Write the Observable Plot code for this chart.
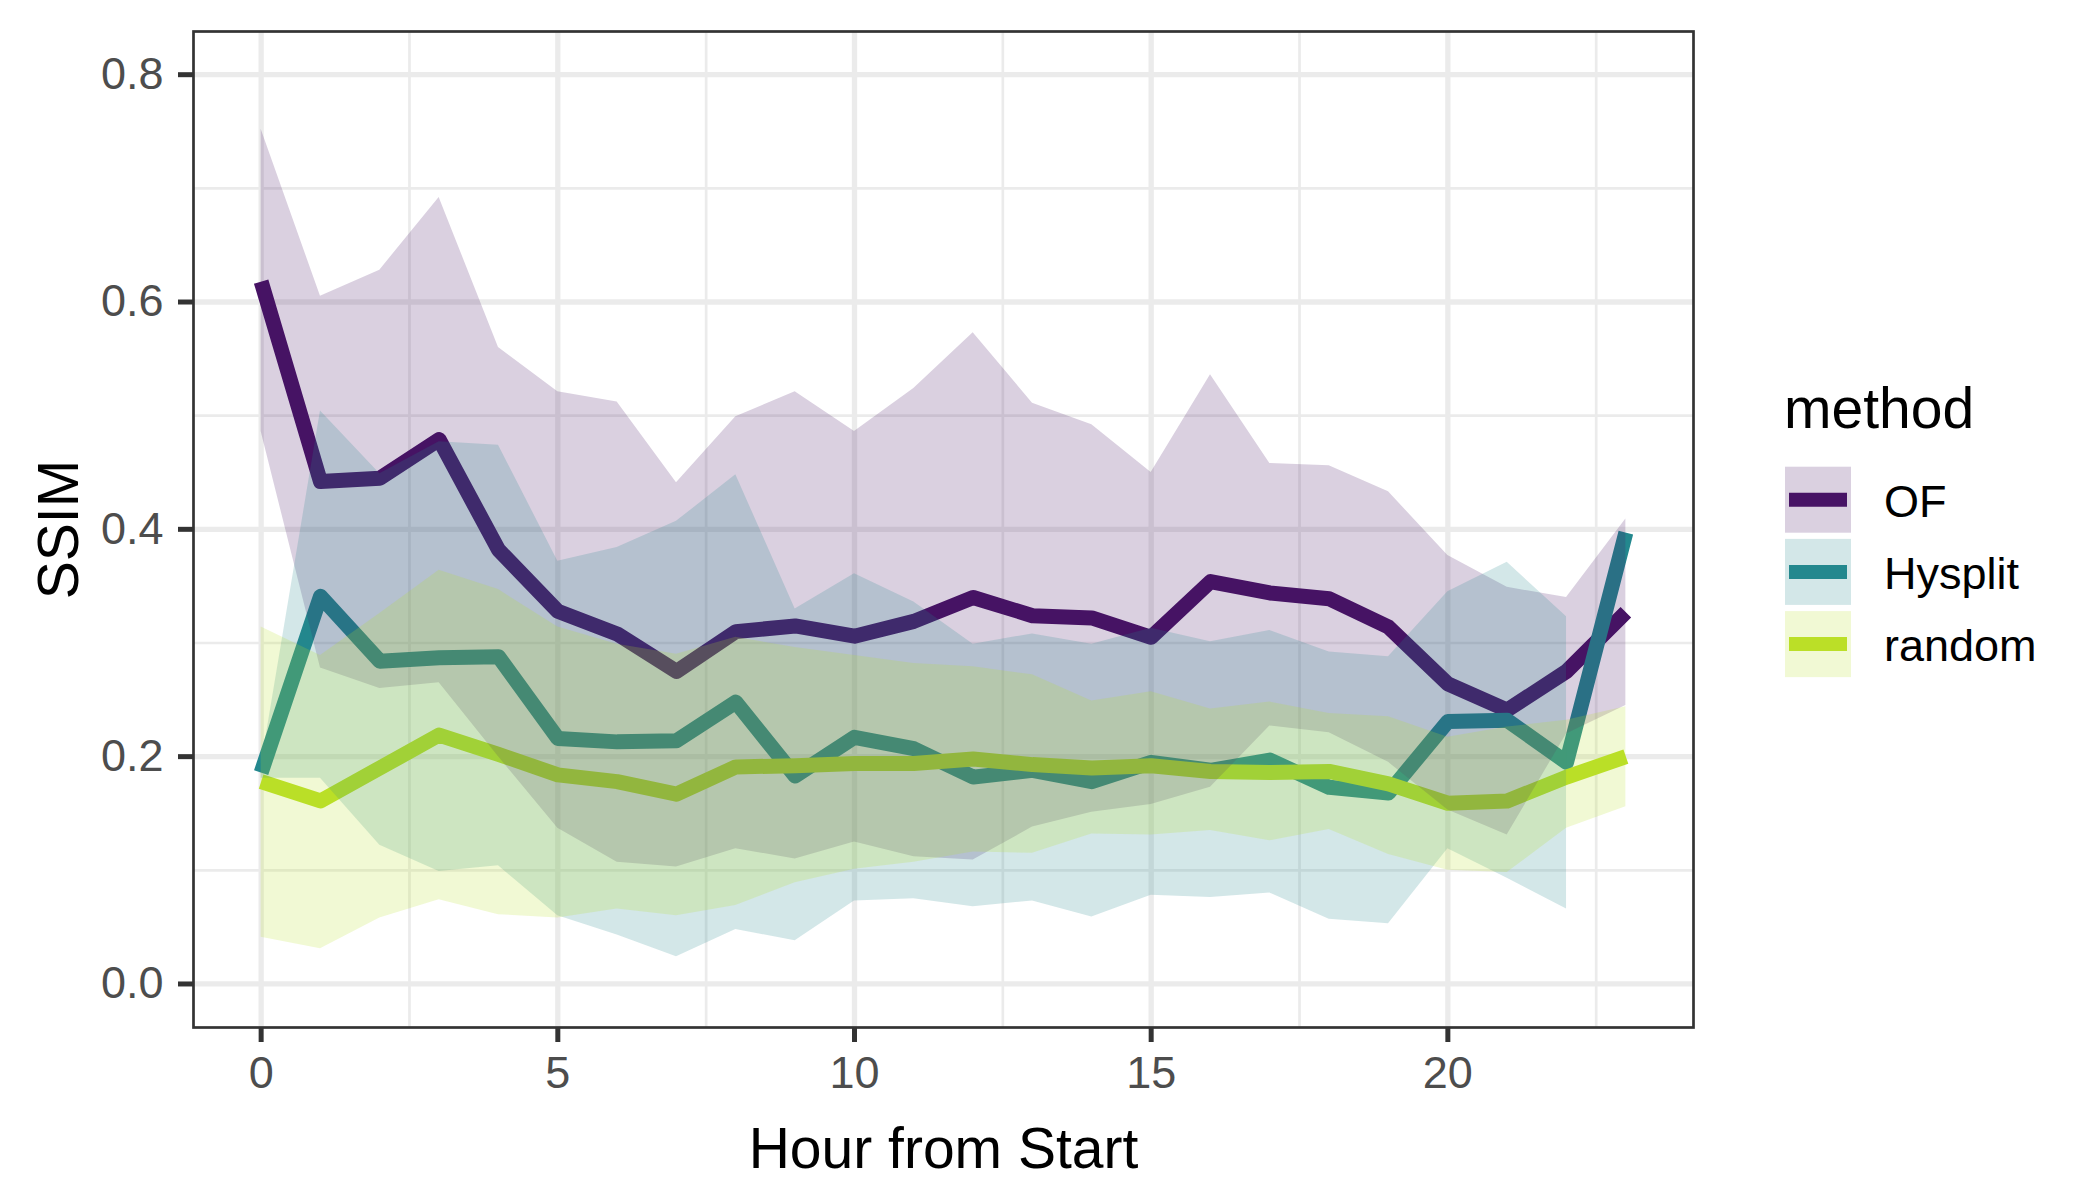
<!DOCTYPE html>
<html>
<head>
<meta charset="utf-8">
<script src="https://cdn.jsdelivr.net/npm/d3@7"></script>
<script src="https://cdn.jsdelivr.net/npm/@observablehq/plot@0.6"></script>
<style>
html, body { margin: 0; padding: 0; background: #ffffff; }
#wrap { position: relative; width: 2100px; height: 1200px; font-family: "Liberation Sans", Arial, Helvetica, sans-serif; }
#wrap > svg.chart { position: absolute; left: 0; top: 0; }
#wrap > svg#legend { position: absolute; left: 1760px; top: 340px; }
</style>
</head>
<body>
<div id="wrap"></div>
<script>
// ---- data ----
const hours = [0, 1, 2, 3, 4, 5, 6, 7, 8, 9, 10, 11, 12, 13, 14, 15, 16, 17, 18, 19, 20, 21, 22, 23];

const ofMean = [0.618, 0.442, 0.445, 0.479, 0.382, 0.328, 0.308, 0.275, 0.310, 0.315, 0.306, 0.319, 0.340, 0.324, 0.322, 0.305, 0.354, 0.344, 0.339, 0.314, 0.264, 0.241, 0.275, 0.327];
const ofLow  = [0.486, 0.278, 0.260, 0.265, 0.200, 0.137, 0.107, 0.103, 0.119, 0.110, 0.125, 0.112, 0.109, 0.138, 0.151, 0.158, 0.173, 0.227, 0.221, 0.195, 0.153, 0.131, 0.220, 0.245];
const ofHigh = [0.752, 0.605, 0.628, 0.692, 0.560, 0.521, 0.512, 0.441, 0.499, 0.521, 0.486, 0.524, 0.573, 0.511, 0.492, 0.450, 0.536, 0.458, 0.456, 0.433, 0.377, 0.349, 0.340, 0.409];

const hysMean = [0.186, 0.341, 0.284, 0.287, 0.288, 0.216, 0.213, 0.214, 0.248, 0.183, 0.217, 0.207, 0.182, 0.188, 0.178, 0.195, 0.188, 0.197, 0.173, 0.168, 0.231, 0.232, 0.195, 0.397];
const hysLow  = [0.181, 0.181, 0.122, 0.099, 0.104, 0.060, 0.043, 0.024, 0.048, 0.038, 0.073, 0.075, 0.068, 0.073, 0.059, 0.078, 0.076, 0.080, 0.057, 0.053, 0.119, 0.093, 0.066];
const hysHigh = [0.192, 0.504, 0.449, 0.477, 0.474, 0.372, 0.384, 0.407, 0.448, 0.330, 0.361, 0.336, 0.299, 0.308, 0.299, 0.313, 0.301, 0.311, 0.292, 0.288, 0.345, 0.371, 0.323];

const randMean = [0.178, 0.161, 0.190, 0.219, 0.202, 0.184, 0.178, 0.167, 0.191, 0.192, 0.194, 0.194, 0.198, 0.193, 0.190, 0.192, 0.187, 0.186, 0.187, 0.176, 0.159, 0.161, 0.182, 0.200];
const randLow  = [0.041, 0.031, 0.058, 0.074, 0.061, 0.058, 0.066, 0.060, 0.069, 0.089, 0.101, 0.107, 0.116, 0.115, 0.132, 0.131, 0.135, 0.126, 0.136, 0.114, 0.100, 0.098, 0.137, 0.156];
const randHigh = [0.314, 0.289, 0.326, 0.364, 0.347, 0.314, 0.299, 0.290, 0.305, 0.296, 0.289, 0.282, 0.279, 0.272, 0.249, 0.257, 0.242, 0.248, 0.238, 0.235, 0.217, 0.226, 0.232, 0.244];

const methods = ["OF", "Hysplit", "random"];
const colors = ["#471365", "#23888E", "#BBDF27"];

const xMajor = [0, 5, 10, 15, 20];
const xMinor = [2.5, 7.5, 12.5, 17.5, 22.5];
const yMajor = [0, 0.2, 0.4, 0.6, 0.8];
const yMinor = [0.1, 0.3, 0.5, 0.7];

const xTitle = "Hour from Start";
const yTitle = "SSIM";
const legendTitle = "method";

// ---- tables ----
const lineRows = (mean) => mean.map((v, i) => ({hour: hours[i], value: v}));
const bandRows = (lo, hi) => lo.map((v, i) => ({hour: hours[i], lo: v, hi: hi[i]}));

const means = [ofMean, hysMean, randMean];
const bands = [bandRows(ofLow, ofHigh), bandRows(hysLow, hysHigh), bandRows(randLow, randHigh)];

const gridColor = "#EBEBEB";
const lineWidth = 15;

const chart = Plot.plot({
  width: 2100,
  height: 1200,
  marginLeft: 193,
  marginRight: 407,
  marginTop: 31,
  marginBottom: 173,
  className: "chart",
  style: {background: "#ffffff", fontFamily: "\"Liberation Sans\", Arial, Helvetica, sans-serif"},
  x: {domain: [-1.14, 24.14]},
  y: {domain: [-0.0383, 0.838]},
  marks: [
    Plot.gridY({ticks: yMinor, stroke: gridColor, strokeOpacity: 1, strokeWidth: 2.7}),
    Plot.gridX({ticks: xMinor, stroke: gridColor, strokeOpacity: 1, strokeWidth: 2.7}),
    Plot.gridY({ticks: yMajor, stroke: gridColor, strokeOpacity: 1, strokeWidth: 5.3}),
    Plot.gridX({ticks: xMajor, stroke: gridColor, strokeOpacity: 1, strokeWidth: 5.3}),
    ...means.map((m, i) => Plot.line(lineRows(m), {
      x: "hour", y: "value", stroke: colors[i], strokeWidth: lineWidth,
      strokeLinejoin: "round", strokeLinecap: "butt"
    })),
    ...bands.map((b, i) => Plot.areaY(b, {
      x: "hour", y1: "lo", y2: "hi", fill: colors[i], fillOpacity: 0.2
    })),
    Plot.frame({stroke: "#333333", strokeWidth: 2.7}),
    Plot.axisX({
      ticks: xMajor, tickFormat: d3.format("d"), label: null,
      tickSize: 15, tickPadding: 14, fontSize: 45,
      stroke: "#333333", strokeWidth: 5, fill: "#4D4D4D"
    }),
    Plot.axisY({
      ticks: yMajor, tickFormat: d3.format(".1f"), label: null,
      tickSize: 15, tickPadding: 15, fontSize: 45,
      stroke: "#333333", strokeWidth: 5, fill: "#4D4D4D"
    }),
    Plot.text([xTitle], {
      text: (d) => d, frameAnchor: "bottom", dy: 140,
      textAnchor: "middle", lineAnchor: "bottom", fontSize: 57, fill: "#000000"
    }),
    Plot.text([yTitle], {
      text: (d) => d, frameAnchor: "left", dx: -116, rotate: -90,
      textAnchor: "middle", lineAnchor: "bottom", fontSize: 57, fill: "#000000"
    })
  ]
});

const wrap = document.getElementById("wrap");
chart.classList.add("chart");
wrap.appendChild(chart);

// ---- legend ----
const leg = d3.create("svg")
  .attr("id", "legend")
  .attr("width", 340)
  .attr("height", 360)
  .style("position", "absolute")
  .style("left", "1760px")
  .style("top", "340px")
  .style("font-family", "\"Liberation Sans\", Arial, Helvetica, sans-serif");
leg.append("text").attr("x", 24).attr("y", 88).attr("font-size", 57).attr("fill", "#000").text(legendTitle);
methods.forEach((m, i) => {
  const top = 126.7 + i * 72.2;
  leg.append("rect").attr("x", 25).attr("y", top).attr("width", 66).attr("height", 66)
    .attr("fill", colors[i]).attr("fill-opacity", 0.2);
  leg.append("line").attr("x1", 29).attr("x2", 87).attr("y1", top + 33).attr("y2", top + 33)
    .attr("stroke", colors[i]).attr("stroke-width", 14);
  leg.append("text").attr("x", 124).attr("y", top + 50).attr("font-size", 45).attr("fill", "#000").text(m);
});
wrap.appendChild(leg.node());
</script>
</body>
</html>
